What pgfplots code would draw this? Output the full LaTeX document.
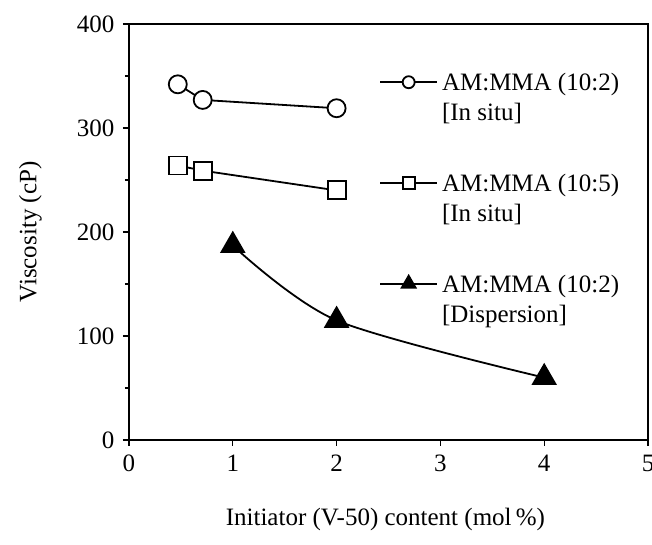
\documentclass[border=0pt]{standalone}
\usepackage{pgfplots}
\pgfplotsset{compat=1.18}
\usepackage{fontspec}
\setmainfont{Liberation Serif}
\begin{document}
\fontsize{12.5}{15}\selectfont
\begin{tikzpicture}
  \begin{axis}[
    scale only axis,
    width=259.5pt, height=208pt,
    xmin=0, xmax=5, ymin=0, ymax=400,
    xtick={0,1,2,3,4,5},
    ytick={0,100,200,300,400},
    minor ytick={50,150,250,350},
    tick pos=left,
    tick align=outside,
    major tick length=3pt,
    minor tick length=2pt,
    axis line style={line width=1pt},
    every tick/.style={black, line width=0.6pt},
    /pgf/number format/assume math mode=true,
    ticklabel style={font=\fontsize{12.5}{15}\selectfont},
    xlabel={Initiator (V-50) content (mol\,\%)},
    ylabel={Viscosity (cP)},
    every axis x label/.style={at={(axis description cs:0.494,-0.192)}, anchor=center},
    every axis y label/.style={at={(axis description cs:-0.19,0.5)}, rotate=90, anchor=center},
    legend cell align=left,
    legend style={draw=none, fill=none, at={(axis description cs:0.47,0.91)}, anchor=north west,
      row sep=34pt, font=\fontsize{12.5}{15}\selectfont},
    legend image code/.code={%
      \draw[mark repeat=2, mark phase=2, #1] plot coordinates {(0cm,0cm) (0.5cm,0cm) (1cm,0cm)};},
  ]
    % AM:MMA (10:2) in situ
    \addplot[black, line width=0.9pt, mark=*, mark size=4.5pt,
      mark options={fill=white, draw=black, line width=0.9pt},
      legend image post style={mark size=3pt}]
      coordinates {(0.47,342) (0.71,327) (2,319)};
    \addlegendentry{\begin{tabular}[t]{@{}l@{}}AM:MMA (10:2)\\ {[In situ]}\end{tabular}}
    % AM:MMA (10:5) in situ
    \addplot[black, line width=0.9pt, mark=square*, mark size=4.5pt,
      mark options={fill=white, draw=black, line width=0.9pt},
      legend image post style={mark size=3pt}]
      coordinates {(0.47,264) (0.71,259) (2,240)};
    \addlegendentry{\begin{tabular}[t]{@{}l@{}}AM:MMA (10:5)\\ {[In situ]}\end{tabular}}
    % AM:MMA (10:2) dispersion
    \addplot[black, line width=0.9pt, smooth, mark=triangle*, mark size=6.5pt,
      mark options={fill=black},
      legend image post style={mark size=4pt}]
      coordinates {(1,187) (2,115) (4,60)};
    \addlegendentry{\begin{tabular}[t]{@{}l@{}}AM:MMA (10:2)\\ {[Dispersion]}\end{tabular}}
  \end{axis}
  \pgfresetboundingbox
  \path ([xshift=-64.5pt,yshift=-52.5pt]current axis.south west)
    rectangle ([xshift=2pt,yshift=12pt]current axis.north east);
\end{tikzpicture}
\end{document}
